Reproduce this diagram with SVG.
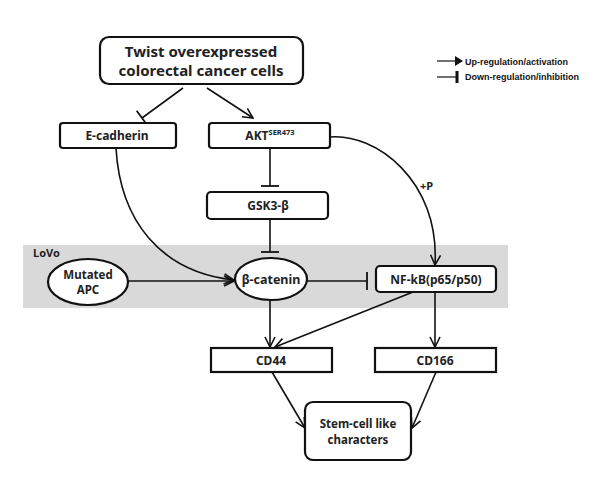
<svg xmlns="http://www.w3.org/2000/svg" width="608" height="477" viewBox="0 0 608 477">
<style>
.box{fill:#fff;stroke:#111;stroke-width:2.2}
.t{font-family:"Noto Sans","Open Sans",sans-serif;font-weight:bold;fill:#222;text-anchor:middle}
.c{fill:none;stroke:#111;stroke-width:1.6}
.lg{font-family:"Liberation Sans",Arial,sans-serif;font-weight:bold;font-size:9px;fill:#111}
</style>
<defs>
<marker id="arr" viewBox="0 0 12 12" refX="11" refY="6" markerWidth="12" markerHeight="12" markerUnits="userSpaceOnUse" orient="auto">
<path d="M1,1 L11,6 L1,11" fill="none" stroke="#111" stroke-width="1.6"/>
</marker>
<marker id="bar" viewBox="0 0 4 20" refX="2" refY="10" markerWidth="4" markerHeight="20" markerUnits="userSpaceOnUse" orient="auto">
<path d="M2,1 L2,19" stroke="#111" stroke-width="1.8"/>
</marker>
<marker id="larr" viewBox="0 0 8 10" refX="7" refY="5" markerWidth="8" markerHeight="10" markerUnits="userSpaceOnUse" orient="auto">
<path d="M0,0 L8,5 L0,10 Z" fill="#111"/>
</marker>
<marker id="lbar" viewBox="0 0 4 12" refX="2" refY="6" markerWidth="4" markerHeight="12" markerUnits="userSpaceOnUse" orient="auto">
<path d="M2,0 L2,12" stroke="#111" stroke-width="3"/>
</marker>
</defs>
<rect width="608" height="477" fill="#fff"/>
<rect id="lovo-band" x="23" y="245" width="485" height="63" fill="#d9d9d9"/>
<text x="33" y="257" class="t" style="text-anchor:start;font-size:11px">LoVo</text>

<g id="connectors">
<path class="c" d="M183,88 L142,118" marker-end="url(#bar)"/>
<path class="c" d="M207,88 L253,118" marker-end="url(#arr)"/>
<path class="c" d="M270,148 L270,186" marker-end="url(#bar)"/>
<path class="c" d="M270,219 L270,252" marker-end="url(#bar)"/>
<path class="c" d="M116,148 C120,220 160,272 234,280" marker-end="url(#arr)"/>
<path class="c" d="M128,281 L234,281" marker-end="url(#arr)"/>
<path class="c" d="M306,281 L367,281" marker-end="url(#bar)"/>
<path class="c" d="M330,137 C375,133 440,180 435,265" marker-end="url(#arr)"/>
<path class="c" d="M270,300 L270,347" marker-end="url(#arr)"/>
<path class="c" d="M435,292 L435,347" marker-end="url(#arr)"/>
<path class="c" d="M413,292 L275,347" marker-end="url(#arr)"/>
<path class="c" d="M272,372 L305,428" marker-end="url(#arr)"/>
<path class="c" d="M436,372 L412,428" marker-end="url(#arr)"/>
</g>
<text x="420" y="190" class="t" style="text-anchor:start;font-size:11px">+P</text>

<g id="twist">
<rect class="box" x="100" y="37" width="203" height="47" rx="9"/>
<text class="t" x="201" y="57" style="font-size:15px">Twist overexpressed</text>
<text class="t" x="201" y="76" style="font-size:15px">colorectal cancer cells</text>
</g>
<g id="ecadherin">
<rect class="box" x="60" y="123" width="116" height="25" rx="3"/>
<text class="t" x="117" y="140" style="font-size:12px">E-cadherin</text>
</g>
<g id="akt">
<rect class="box" x="209" y="123" width="121" height="25" rx="3"/>
<text class="t" x="270" y="140" style="font-size:12px">AKT<tspan dy="-5" style="font-size:7.5px">SER473</tspan></text>
</g>
<g id="gsk3b">
<rect class="box" x="207" y="192" width="121" height="27" rx="4"/>
<text class="t" x="268" y="210" style="font-size:12px">GSK3-β</text>
</g>
<g id="apc">
<ellipse class="box" cx="88" cy="282" rx="40" ry="23"/>
<text class="t" x="88" y="279" style="font-size:11.5px">Mutated</text>
<text class="t" x="88" y="294" style="font-size:11.5px">APC</text>
</g>
<g id="bcatenin">
<ellipse class="box" cx="271" cy="279" rx="36" ry="21"/>
<text class="t" x="271" y="284" style="font-size:12.5px">β-catenin</text>
</g>
<g id="nfkb">
<rect class="box" x="376" y="266" width="120" height="26" rx="4"/>
<text class="t" x="436" y="284" style="font-size:12px">NF-kB(p65/p50)</text>
</g>
<g id="cd44">
<rect class="box" x="211" y="348" width="121" height="24"/>
<text class="t" x="271" y="365" style="font-size:12px">CD44</text>
</g>
<g id="cd166">
<rect class="box" x="375" y="348" width="121" height="24"/>
<text class="t" x="435" y="365" style="font-size:12px">CD166</text>
</g>
<g id="stem">
<rect class="box" x="305" y="402" width="106" height="58" rx="8"/>
<text class="t" x="358" y="428" style="font-size:11.5px">Stem-cell like</text>
<text class="t" x="358" y="444" style="font-size:11.5px">characters</text>
</g>

<g id="legend">
<path d="M437,61 L462,61" stroke="#111" stroke-width="1.2" marker-end="url(#larr)"/>
<text x="465" y="65" class="lg">Up-regulation/activation</text>
<path d="M437,77 L457,77" stroke="#111" stroke-width="1.2" marker-end="url(#lbar)"/>
<text x="465" y="80" class="lg">Down-regulation/inhibition</text>
</g>
</svg>
